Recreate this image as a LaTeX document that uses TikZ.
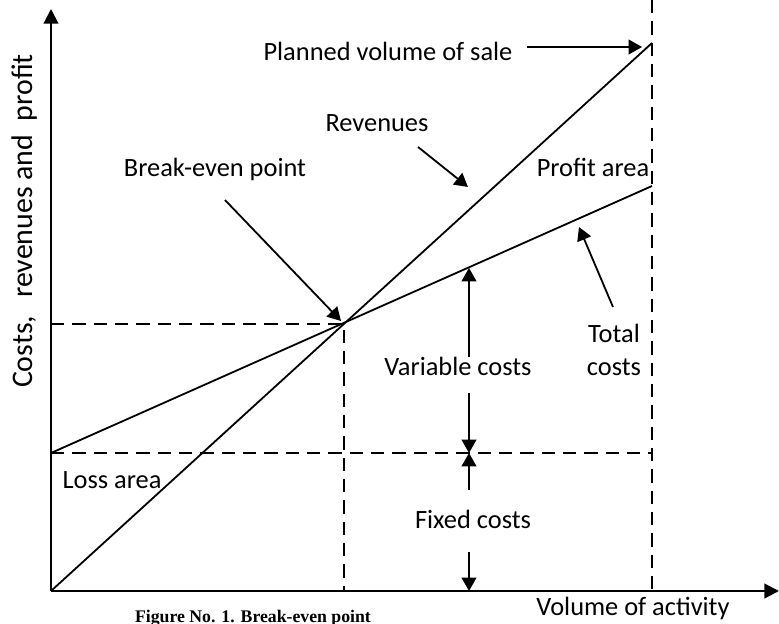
\documentclass[tikz,border=0pt]{standalone}
\usepackage{fontspec}
\setmainfont{Carlito}
\newfontfamily\capfont{Liberation Serif}
\usetikzlibrary{arrows.meta}
\begin{document}
\begin{tikzpicture}[x=0.75pt,y=-0.75pt,
  axis/.style={line width=1.6pt,-{Triangle[length=11pt,width=11pt]}},
  curve/.style={line width=1.35pt},
  guide/.style={line width=1.35pt,dash pattern=on 10pt off 6pt},
  pointer/.style={line width=1.35pt,-{Triangle[length=10pt,width=11pt]}},
  lbl/.style={font=\fontsize{19.8pt}{23pt}\selectfont,anchor=base,inner sep=0pt}]
\useasboundingbox (0,0) rectangle (779,624);
\clip (0,0) rectangle (779,624);

% key points
\coordinate (O) at (51,591);
\coordinate (ytop) at (51,9);
\coordinate (xend) at (779,591);
\coordinate (plantop) at (652,0);
\coordinate (planbot) at (652,591);
\coordinate (rev) at (652,43);
\coordinate (fc) at (51,453);
\coordinate (fcend) at (652,453);
\coordinate (tc) at (652,186);
\coordinate (be) at (344,324);
\coordinate (bey) at (51,324);
\coordinate (bex) at (344,591);

% dashed guides
\draw[guide] (plantop) -- (planbot);
\draw[guide] (bey) -- (be) -- (bex);
\draw[guide] (fc) -- (fcend);

% revenue and total cost lines
\draw[curve] (O) -- (rev);
\draw[curve] (fc) -- (tc);

% axes
\draw[axis] (O) -- (ytop);
\draw[axis] (O) -- (xend);

% labels
\node[lbl] (plan) at (388,61) {Planned volume of sale};
\node[lbl] (revl) at (377,132) {Revenues};
\node[lbl] (bel) at (215,177) {Break-even point};
\node[lbl] (profit) at (593,177) {Profit area};
\node[lbl] (tot1) at (614,343) {Total};
\node[lbl] (tot2) at (614,375) {costs};
\node[lbl] (var) at (458,375) {Variable costs};
\node[lbl] (fix) at (473,528) {Fixed costs};
\node[lbl] (loss) at (112,488) {Loss area};
\node[lbl] (vol) at (633,615) {Volume of activity};
\node[lbl,rotate=90,font=\fontsize{22.4pt}{26pt}\selectfont] (ylab) at (32,221) {Costs,\hspace{0.6em}revenues and\hspace{0.45em}profit};
\node[anchor=base,inner sep=0pt,font=\capfont\bfseries\fontsize{13.3pt}{15pt}\selectfont] (cap) at (253,622) {Figure No. 1. Break-even point};

% pointer arrows
\coordinate (planA) at (527,47);
\coordinate (planB) at (642,47);
\draw[pointer] (planA) -- (planB);
\coordinate (revA) at (418,147);
\coordinate (revB) at (468,187);
\draw[pointer] (revA) -- (revB);
\coordinate (beA) at (225,200);
\coordinate (beB) at (341,321);
\draw[pointer] (beA) -- (beB);
\coordinate (tcA) at (613,307);
\coordinate (tcB) at (579,227);
\draw[pointer] (tcA) -- (tcB);

% cost component arrows
\coordinate (v1) at (469,357);
\coordinate (v2) at (469,268);
\coordinate (v3) at (469,393);
\coordinate (mid) at (469,453);
\coordinate (f1) at (469,490);
\coordinate (f2) at (469,552);
\coordinate (f3) at (469,591);
\draw[pointer] (v1) -- (v2);
\draw[pointer] (v3) -- (mid);
\draw[pointer] (f1) -- (mid);
\draw[pointer] (f2) -- (f3);
\end{tikzpicture}
\end{document}
